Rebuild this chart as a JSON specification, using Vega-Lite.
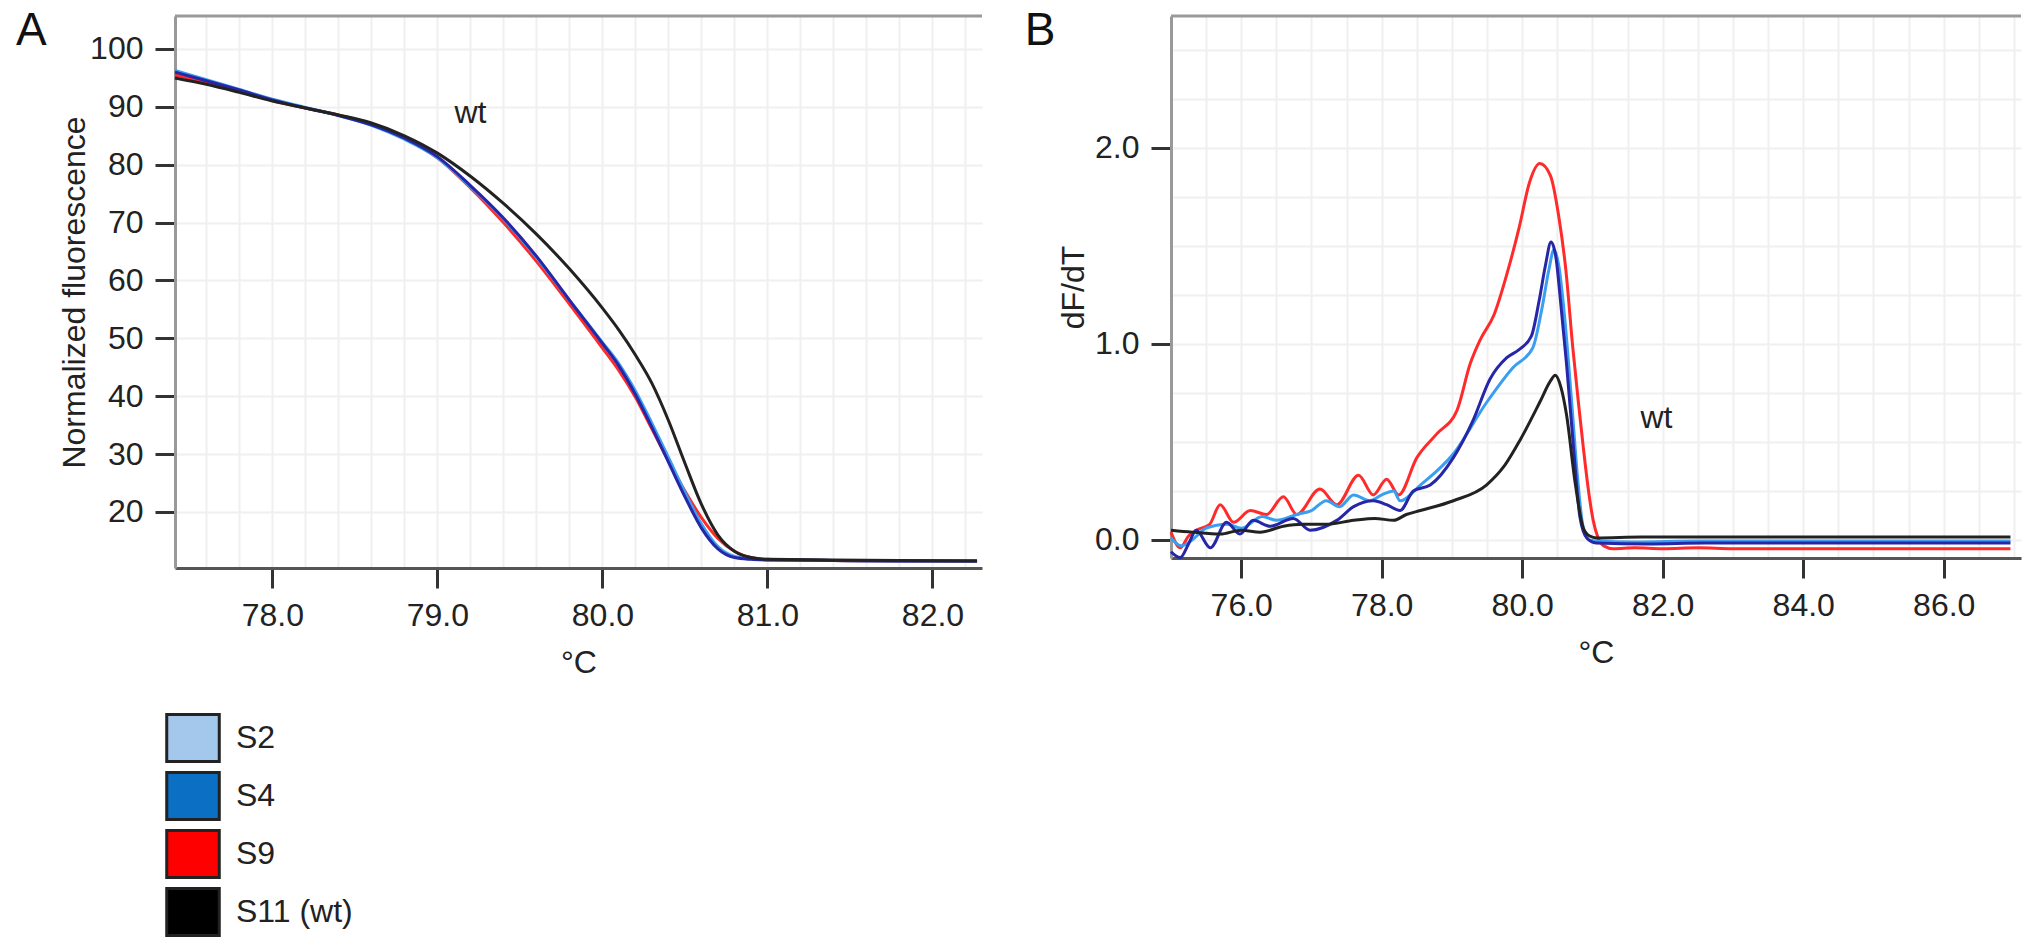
{
  "$schema": "https://vega.github.io/schema/vega-lite/v6.json",
  "background": "white",
  "padding": {"left": 15, "top": 8, "right": 10, "bottom": 6},
  "config": {
    "font": "Liberation Sans",
    "view": {"stroke": null},
    "axis": {
      "labelFont": "Liberation Sans",
      "labelFontSize": 32,
      "labelColor": "#222",
      "titleFont": "Liberation Sans",
      "titleFontSize": 32,
      "titleFontWeight": "normal",
      "titleColor": "#222",
      "tickColor": "#333",
      "tickWidth": 3,
      "tickSize": 20,
      "tickCount": 100,
      "domainWidth": 3,
      "gridColor": "#f0f0f0",
      "gridWidth": 2,
      "labelOverlap": false,
      "labelFlush": false
    }
  },
  "bounds": "flush",
  "spacing": 189,
  "hconcat": [
    {
      "width": 807,
      "height": 552,
      "title": {"text": "A", "orient": "left", "anchor": "end", "angle": 0, "align": "left", "baseline": "top", "frame": "group", "fontSize": 46, "fontWeight": "normal", "color": "#111", "offset": 12, "dy": -7},
      "layer": [
        {
          "data": {"values": [
            {"sample": "S9", "t": 77.41, "f": 95.5}, {"sample": "S9", "t": 77.6, "f": 94.2}, {"sample": "S9", "t": 77.8, "f": 92.7}, {"sample": "S9", "t": 78.0, "f": 91.1}, {"sample": "S9", "t": 78.2, "f": 89.8}, {"sample": "S9", "t": 78.4, "f": 88.6}, {"sample": "S9", "t": 78.6, "f": 87.0}, {"sample": "S9", "t": 78.8, "f": 84.6}, {"sample": "S9", "t": 79.0, "f": 81.2}, {"sample": "S9", "t": 79.2, "f": 76.0}, {"sample": "S9", "t": 79.4, "f": 70.0}, {"sample": "S9", "t": 79.6, "f": 63.3}, {"sample": "S9", "t": 79.8, "f": 55.9}, {"sample": "S9", "t": 80.0, "f": 48.3}, {"sample": "S9", "t": 80.1, "f": 44.4}, {"sample": "S9", "t": 80.2, "f": 39.8}, {"sample": "S9", "t": 80.3, "f": 34.3}, {"sample": "S9", "t": 80.4, "f": 28.8}, {"sample": "S9", "t": 80.5, "f": 23.6}, {"sample": "S9", "t": 80.6, "f": 19.0}, {"sample": "S9", "t": 80.7, "f": 15.4}, {"sample": "S9", "t": 80.8, "f": 13.2}, {"sample": "S9", "t": 80.9, "f": 12.1}, {"sample": "S9", "t": 81.0, "f": 11.8}, {"sample": "S9", "t": 81.4, "f": 11.6}, {"sample": "S9", "t": 81.8, "f": 11.5}, {"sample": "S9", "t": 82.27, "f": 11.5},
            {"sample": "S2", "t": 77.41, "f": 96.3}, {"sample": "S2", "t": 77.6, "f": 94.7}, {"sample": "S2", "t": 77.8, "f": 93.0}, {"sample": "S2", "t": 78.0, "f": 91.3}, {"sample": "S2", "t": 78.2, "f": 89.9}, {"sample": "S2", "t": 78.4, "f": 88.5}, {"sample": "S2", "t": 78.6, "f": 86.8}, {"sample": "S2", "t": 78.8, "f": 84.4}, {"sample": "S2", "t": 79.0, "f": 81.2}, {"sample": "S2", "t": 79.2, "f": 76.2}, {"sample": "S2", "t": 79.4, "f": 70.6}, {"sample": "S2", "t": 79.6, "f": 64.0}, {"sample": "S2", "t": 79.8, "f": 56.6}, {"sample": "S2", "t": 80.0, "f": 49.3}, {"sample": "S2", "t": 80.1, "f": 45.6}, {"sample": "S2", "t": 80.2, "f": 40.9}, {"sample": "S2", "t": 80.3, "f": 35.3}, {"sample": "S2", "t": 80.4, "f": 29.4}, {"sample": "S2", "t": 80.5, "f": 23.4}, {"sample": "S2", "t": 80.6, "f": 17.9}, {"sample": "S2", "t": 80.7, "f": 14.0}, {"sample": "S2", "t": 80.8, "f": 12.3}, {"sample": "S2", "t": 80.9, "f": 11.9}, {"sample": "S2", "t": 81.0, "f": 11.7}, {"sample": "S2", "t": 81.4, "f": 11.6}, {"sample": "S2", "t": 81.8, "f": 11.5}, {"sample": "S2", "t": 82.27, "f": 11.5},
            {"sample": "S4", "t": 77.41, "f": 96.0}, {"sample": "S4", "t": 77.6, "f": 94.5}, {"sample": "S4", "t": 77.8, "f": 92.9}, {"sample": "S4", "t": 78.0, "f": 91.2}, {"sample": "S4", "t": 78.2, "f": 89.8}, {"sample": "S4", "t": 78.4, "f": 88.5}, {"sample": "S4", "t": 78.6, "f": 86.9}, {"sample": "S4", "t": 78.8, "f": 84.6}, {"sample": "S4", "t": 79.0, "f": 81.4}, {"sample": "S4", "t": 79.2, "f": 76.4}, {"sample": "S4", "t": 79.4, "f": 70.8}, {"sample": "S4", "t": 79.6, "f": 64.2}, {"sample": "S4", "t": 79.8, "f": 56.6}, {"sample": "S4", "t": 80.0, "f": 49.1}, {"sample": "S4", "t": 80.1, "f": 45.2}, {"sample": "S4", "t": 80.2, "f": 40.3}, {"sample": "S4", "t": 80.3, "f": 34.6}, {"sample": "S4", "t": 80.4, "f": 28.6}, {"sample": "S4", "t": 80.5, "f": 22.6}, {"sample": "S4", "t": 80.6, "f": 17.2}, {"sample": "S4", "t": 80.7, "f": 13.6}, {"sample": "S4", "t": 80.8, "f": 12.1}, {"sample": "S4", "t": 80.9, "f": 11.8}, {"sample": "S4", "t": 81.0, "f": 11.7}, {"sample": "S4", "t": 81.4, "f": 11.6}, {"sample": "S4", "t": 81.8, "f": 11.5}, {"sample": "S4", "t": 82.27, "f": 11.5},
            {"sample": "S11 (wt)", "t": 77.41, "f": 95.0}, {"sample": "S11 (wt)", "t": 77.6, "f": 93.9}, {"sample": "S11 (wt)", "t": 77.8, "f": 92.5}, {"sample": "S11 (wt)", "t": 78.0, "f": 91.0}, {"sample": "S11 (wt)", "t": 78.2, "f": 89.8}, {"sample": "S11 (wt)", "t": 78.4, "f": 88.6}, {"sample": "S11 (wt)", "t": 78.6, "f": 87.2}, {"sample": "S11 (wt)", "t": 78.8, "f": 85.0}, {"sample": "S11 (wt)", "t": 79.0, "f": 82.0}, {"sample": "S11 (wt)", "t": 79.2, "f": 78.0}, {"sample": "S11 (wt)", "t": 79.4, "f": 73.3}, {"sample": "S11 (wt)", "t": 79.6, "f": 68.0}, {"sample": "S11 (wt)", "t": 79.8, "f": 62.0}, {"sample": "S11 (wt)", "t": 80.0, "f": 55.2}, {"sample": "S11 (wt)", "t": 80.1, "f": 51.4}, {"sample": "S11 (wt)", "t": 80.2, "f": 47.1}, {"sample": "S11 (wt)", "t": 80.3, "f": 42.2}, {"sample": "S11 (wt)", "t": 80.4, "f": 35.8}, {"sample": "S11 (wt)", "t": 80.5, "f": 28.4}, {"sample": "S11 (wt)", "t": 80.6, "f": 21.3}, {"sample": "S11 (wt)", "t": 80.7, "f": 16.0}, {"sample": "S11 (wt)", "t": 80.8, "f": 13.2}, {"sample": "S11 (wt)", "t": 80.9, "f": 12.1}, {"sample": "S11 (wt)", "t": 81.0, "f": 11.8}, {"sample": "S11 (wt)", "t": 81.4, "f": 11.7}, {"sample": "S11 (wt)", "t": 81.8, "f": 11.6}, {"sample": "S11 (wt)", "t": 82.27, "f": 11.5}
          ]},
          "mark": {"type": "line", "strokeWidth": 3, "interpolate": "monotone"},
          "encoding": {
            "x": {
              "field": "t", "type": "quantitative",
              "scale": {"domain": [77.41, 82.3], "nice": false, "zero": false},
              "axis": {
                "title": "°C",
                "values": [77.6, 77.8, 78, 78.2, 78.4, 78.6, 78.8, 79, 79.2, 79.4, 79.6, 79.8, 80, 80.2, 80.4, 80.6, 80.8, 81, 81.2, 81.4, 81.6, 81.8, 82, 82.2],
                "tickCount": 100,
                "labelExpr": "abs(datum.value - round(datum.value)) < 0.01 ? format(datum.value, '.1f') : ''",
                "tickOpacity": {"condition": {"test": "abs(datum.value - round(datum.value)) < 0.01", "value": 1}, "value": 0},
                "labelOverlap": false,
                "domainColor": "#555",
                "labelPadding": 12,
                "titlePadding": 16
              }
            },
            "y": {
              "field": "f", "type": "quantitative",
              "scale": {"domain": [10.3, 105.7], "nice": false, "zero": false},
              "axis": {
                "title": "Normalized fluorescence",
                "values": [20, 30, 40, 50, 60, 70, 80, 90, 100],
                "tickCount": 100,
                "labelOverlap": false,
                "domainColor": "#999",
                "labelPadding": 12,
                "titlePadding": -2
              }
            },
            "stroke": {
              "field": "sample", "type": "nominal",
              "scale": {"domain": ["S9", "S2", "S4", "S11 (wt)"], "range": ["#ff2a2a", "#3a9ff0", "#2626a6", "#222222"]},
              "legend": null
            }
          }
        },
        {
          "data": {"values": [{}]},
          "mark": {"type": "rule", "color": "#999", "strokeWidth": 3},
          "encoding": {"y": {"datum": 105.7}}
        },
        {
          "data": {"values": [{"sample": "S2"}, {"sample": "S4"}, {"sample": "S9"}, {"sample": "S11 (wt)"}]},
          "mark": {"type": "square", "size": 0},
          "encoding": {
            "fill": {
              "field": "sample", "type": "nominal",
              "scale": {"domain": ["S2", "S4", "S9", "S11 (wt)"], "range": ["#a4c7ec", "#0b6fc3", "#ff0000", "#000000"]},
              "legend": {
                "orient": "none", "legendX": -7, "legendY": 697, "title": null, "padding": 0,
                "symbolType": "M-1.12,-1H1.12V1H-1.12Z", "symbolSize": 2200,
                "symbolStrokeColor": "#222", "symbolStrokeWidth": 3, "symbolOpacity": 1,
                "labelFont": "Liberation Sans", "labelFontSize": 32, "labelColor": "#222",
                "labelOffset": 18, "rowPadding": -2
              }
            }
          }
        },
        {
          "data": {"values": [{"t": 79.2, "f": 88.9, "label": "wt"}]},
          "mark": {"type": "text", "fontSize": 32, "color": "#222"},
          "encoding": {
            "x": {"field": "t", "type": "quantitative"},
            "y": {"field": "f", "type": "quantitative"},
            "text": {"field": "label"}
          }
        }
      ]
    },
    {
      "width": 850,
      "height": 542,
      "title": {"text": "B", "orient": "left", "anchor": "end", "angle": 0, "align": "left", "baseline": "top", "frame": "group", "fontSize": 46, "fontWeight": "normal", "color": "#111", "offset": 2, "dy": -7},
      "layer": [
        {
          "data": {"values": [
            {"sample": "S9", "t": 75.0, "d": 0.04}, {"sample": "S9", "t": 75.13, "d": -0.04}, {"sample": "S9", "t": 75.25, "d": 0.02}, {"sample": "S9", "t": 75.36, "d": 0.05}, {"sample": "S9", "t": 75.55, "d": 0.08}, {"sample": "S9", "t": 75.7, "d": 0.18}, {"sample": "S9", "t": 75.89, "d": 0.09}, {"sample": "S9", "t": 76.13, "d": 0.15}, {"sample": "S9", "t": 76.36, "d": 0.13}, {"sample": "S9", "t": 76.6, "d": 0.22}, {"sample": "S9", "t": 76.79, "d": 0.13}, {"sample": "S9", "t": 77.12, "d": 0.26}, {"sample": "S9", "t": 77.36, "d": 0.18}, {"sample": "S9", "t": 77.67, "d": 0.33}, {"sample": "S9", "t": 77.88, "d": 0.23}, {"sample": "S9", "t": 78.07, "d": 0.31}, {"sample": "S9", "t": 78.24, "d": 0.23}, {"sample": "S9", "t": 78.5, "d": 0.42}, {"sample": "S9", "t": 78.78, "d": 0.54}, {"sample": "S9", "t": 79.07, "d": 0.66}, {"sample": "S9", "t": 79.26, "d": 0.9}, {"sample": "S9", "t": 79.4, "d": 1.02}, {"sample": "S9", "t": 79.6, "d": 1.15}, {"sample": "S9", "t": 79.8, "d": 1.38}, {"sample": "S9", "t": 79.96, "d": 1.6}, {"sample": "S9", "t": 80.1, "d": 1.82}, {"sample": "S9", "t": 80.25, "d": 1.92}, {"sample": "S9", "t": 80.4, "d": 1.86}, {"sample": "S9", "t": 80.52, "d": 1.65}, {"sample": "S9", "t": 80.62, "d": 1.38}, {"sample": "S9", "t": 80.72, "d": 0.98}, {"sample": "S9", "t": 80.8, "d": 0.7}, {"sample": "S9", "t": 80.87, "d": 0.47}, {"sample": "S9", "t": 80.94, "d": 0.26}, {"sample": "S9", "t": 81.01, "d": 0.1}, {"sample": "S9", "t": 81.08, "d": 0.01}, {"sample": "S9", "t": 81.16, "d": -0.03}, {"sample": "S9", "t": 81.3, "d": -0.045}, {"sample": "S9", "t": 81.6, "d": -0.04}, {"sample": "S9", "t": 82.0, "d": -0.045}, {"sample": "S9", "t": 82.5, "d": -0.04}, {"sample": "S9", "t": 83.0, "d": -0.045}, {"sample": "S9", "t": 84.0, "d": -0.045}, {"sample": "S9", "t": 85.0, "d": -0.045}, {"sample": "S9", "t": 86.0, "d": -0.045}, {"sample": "S9", "t": 86.95, "d": -0.045},
            {"sample": "S2", "t": 75.0, "d": 0.01}, {"sample": "S2", "t": 75.15, "d": -0.03}, {"sample": "S2", "t": 75.3, "d": 0.0}, {"sample": "S2", "t": 75.5, "d": 0.06}, {"sample": "S2", "t": 75.8, "d": 0.08}, {"sample": "S2", "t": 76.0, "d": 0.06}, {"sample": "S2", "t": 76.3, "d": 0.12}, {"sample": "S2", "t": 76.5, "d": 0.1}, {"sample": "S2", "t": 76.79, "d": 0.13}, {"sample": "S2", "t": 77.0, "d": 0.15}, {"sample": "S2", "t": 77.21, "d": 0.2}, {"sample": "S2", "t": 77.4, "d": 0.17}, {"sample": "S2", "t": 77.6, "d": 0.23}, {"sample": "S2", "t": 77.83, "d": 0.2}, {"sample": "S2", "t": 78.0, "d": 0.23}, {"sample": "S2", "t": 78.17, "d": 0.25}, {"sample": "S2", "t": 78.26, "d": 0.2}, {"sample": "S2", "t": 78.55, "d": 0.28}, {"sample": "S2", "t": 79.02, "d": 0.44}, {"sample": "S2", "t": 79.49, "d": 0.7}, {"sample": "S2", "t": 79.87, "d": 0.88}, {"sample": "S2", "t": 80.15, "d": 0.98}, {"sample": "S2", "t": 80.28, "d": 1.18}, {"sample": "S2", "t": 80.38, "d": 1.38}, {"sample": "S2", "t": 80.45, "d": 1.48}, {"sample": "S2", "t": 80.52, "d": 1.4}, {"sample": "S2", "t": 80.6, "d": 1.15}, {"sample": "S2", "t": 80.7, "d": 0.72}, {"sample": "S2", "t": 80.78, "d": 0.35}, {"sample": "S2", "t": 80.86, "d": 0.08}, {"sample": "S2", "t": 80.95, "d": 0.0}, {"sample": "S2", "t": 81.05, "d": -0.005}, {"sample": "S2", "t": 81.6, "d": -0.01}, {"sample": "S2", "t": 82.5, "d": -0.005}, {"sample": "S2", "t": 84.0, "d": -0.005}, {"sample": "S2", "t": 85.5, "d": -0.005}, {"sample": "S2", "t": 86.95, "d": -0.005},
            {"sample": "S4", "t": 75.0, "d": -0.06}, {"sample": "S4", "t": 75.13, "d": -0.09}, {"sample": "S4", "t": 75.25, "d": -0.02}, {"sample": "S4", "t": 75.36, "d": 0.05}, {"sample": "S4", "t": 75.56, "d": -0.04}, {"sample": "S4", "t": 75.79, "d": 0.09}, {"sample": "S4", "t": 75.98, "d": 0.03}, {"sample": "S4", "t": 76.17, "d": 0.1}, {"sample": "S4", "t": 76.41, "d": 0.07}, {"sample": "S4", "t": 76.74, "d": 0.11}, {"sample": "S4", "t": 76.98, "d": 0.05}, {"sample": "S4", "t": 77.36, "d": 0.1}, {"sample": "S4", "t": 77.6, "d": 0.17}, {"sample": "S4", "t": 77.88, "d": 0.2}, {"sample": "S4", "t": 78.07, "d": 0.18}, {"sample": "S4", "t": 78.26, "d": 0.15}, {"sample": "S4", "t": 78.45, "d": 0.25}, {"sample": "S4", "t": 78.69, "d": 0.28}, {"sample": "S4", "t": 79.02, "d": 0.42}, {"sample": "S4", "t": 79.3, "d": 0.61}, {"sample": "S4", "t": 79.54, "d": 0.82}, {"sample": "S4", "t": 79.78, "d": 0.93}, {"sample": "S4", "t": 79.95, "d": 0.97}, {"sample": "S4", "t": 80.13, "d": 1.04}, {"sample": "S4", "t": 80.24, "d": 1.22}, {"sample": "S4", "t": 80.33, "d": 1.4}, {"sample": "S4", "t": 80.41, "d": 1.52}, {"sample": "S4", "t": 80.48, "d": 1.44}, {"sample": "S4", "t": 80.55, "d": 1.2}, {"sample": "S4", "t": 80.63, "d": 0.9}, {"sample": "S4", "t": 80.73, "d": 0.47}, {"sample": "S4", "t": 80.82, "d": 0.12}, {"sample": "S4", "t": 80.92, "d": 0.01}, {"sample": "S4", "t": 81.05, "d": -0.015}, {"sample": "S4", "t": 81.8, "d": -0.02}, {"sample": "S4", "t": 82.6, "d": -0.015}, {"sample": "S4", "t": 84.0, "d": -0.015}, {"sample": "S4", "t": 85.5, "d": -0.015}, {"sample": "S4", "t": 86.95, "d": -0.015},
            {"sample": "S11 (wt)", "t": 75.0, "d": 0.05}, {"sample": "S11 (wt)", "t": 75.3, "d": 0.04}, {"sample": "S11 (wt)", "t": 75.7, "d": 0.03}, {"sample": "S11 (wt)", "t": 76.0, "d": 0.05}, {"sample": "S11 (wt)", "t": 76.27, "d": 0.04}, {"sample": "S11 (wt)", "t": 76.6, "d": 0.07}, {"sample": "S11 (wt)", "t": 76.88, "d": 0.08}, {"sample": "S11 (wt)", "t": 77.2, "d": 0.08}, {"sample": "S11 (wt)", "t": 77.6, "d": 0.1}, {"sample": "S11 (wt)", "t": 77.9, "d": 0.11}, {"sample": "S11 (wt)", "t": 78.17, "d": 0.1}, {"sample": "S11 (wt)", "t": 78.35, "d": 0.13}, {"sample": "S11 (wt)", "t": 78.55, "d": 0.15}, {"sample": "S11 (wt)", "t": 79.02, "d": 0.2}, {"sample": "S11 (wt)", "t": 79.49, "d": 0.28}, {"sample": "S11 (wt)", "t": 79.75, "d": 0.38}, {"sample": "S11 (wt)", "t": 79.97, "d": 0.51}, {"sample": "S11 (wt)", "t": 80.26, "d": 0.71}, {"sample": "S11 (wt)", "t": 80.4, "d": 0.81}, {"sample": "S11 (wt)", "t": 80.47, "d": 0.84}, {"sample": "S11 (wt)", "t": 80.55, "d": 0.78}, {"sample": "S11 (wt)", "t": 80.63, "d": 0.64}, {"sample": "S11 (wt)", "t": 80.75, "d": 0.3}, {"sample": "S11 (wt)", "t": 80.87, "d": 0.06}, {"sample": "S11 (wt)", "t": 80.96, "d": 0.02}, {"sample": "S11 (wt)", "t": 81.06, "d": 0.01}, {"sample": "S11 (wt)", "t": 81.7, "d": 0.015}, {"sample": "S11 (wt)", "t": 82.6, "d": 0.015}, {"sample": "S11 (wt)", "t": 84.0, "d": 0.015}, {"sample": "S11 (wt)", "t": 85.5, "d": 0.015}, {"sample": "S11 (wt)", "t": 86.95, "d": 0.015}
          ]},
          "mark": {"type": "line", "strokeWidth": 3, "interpolate": "monotone"},
          "encoding": {
            "x": {
              "field": "t", "type": "quantitative",
              "scale": {"domain": [75, 87.1], "nice": false, "zero": false},
              "axis": {
                "title": "°C",
                "values": [75.5, 76, 76.5, 77, 77.5, 78, 78.5, 79, 79.5, 80, 80.5, 81, 81.5, 82, 82.5, 83, 83.5, 84, 84.5, 85, 85.5, 86, 86.5, 87],
                "tickCount": 100,
                "labelExpr": "datum.value % 2 == 0 ? format(datum.value, '.1f') : ''",
                "tickOpacity": {"condition": {"test": "datum.value % 2 == 0", "value": 1}, "value": 0},
                "labelOverlap": false,
                "domainColor": "#555",
                "labelPadding": 12,
                "titlePadding": 16
              }
            },
            "y": {
              "field": "d", "type": "quantitative",
              "scale": {"domain": [-0.092, 2.673], "nice": false, "zero": false},
              "axis": {
                "title": "dF/dT",
                "values": [0, 0.25, 0.5, 0.75, 1, 1.25, 1.5, 1.75, 2, 2.25, 2.5],
                "tickCount": 100,
                "labelExpr": "abs(datum.value - round(datum.value)) < 0.01 ? format(datum.value, '.1f') : ''",
                "tickOpacity": {"condition": {"test": "abs(datum.value - round(datum.value)) < 0.01", "value": 1}, "value": 0},
                "labelOverlap": false,
                "domainColor": "#999",
                "labelPadding": 12,
                "titlePadding": 4
              }
            },
            "stroke": {
              "field": "sample", "type": "nominal",
              "scale": {"domain": ["S9", "S2", "S4", "S11 (wt)"], "range": ["#ff2a2a", "#3a9ff0", "#2626a6", "#222222"]},
              "legend": null
            }
          }
        },
        {
          "data": {"values": [{}]},
          "mark": {"type": "rule", "color": "#999", "strokeWidth": 3},
          "encoding": {"y": {"datum": 2.673}}
        },
        {
          "data": {"values": [{"t": 81.91, "d": 0.62, "label": "wt"}]},
          "mark": {"type": "text", "fontSize": 32, "color": "#222"},
          "encoding": {
            "x": {"field": "t", "type": "quantitative"},
            "y": {"field": "d", "type": "quantitative"},
            "text": {"field": "label"}
          }
        }
      ]
    }
  ]
}
